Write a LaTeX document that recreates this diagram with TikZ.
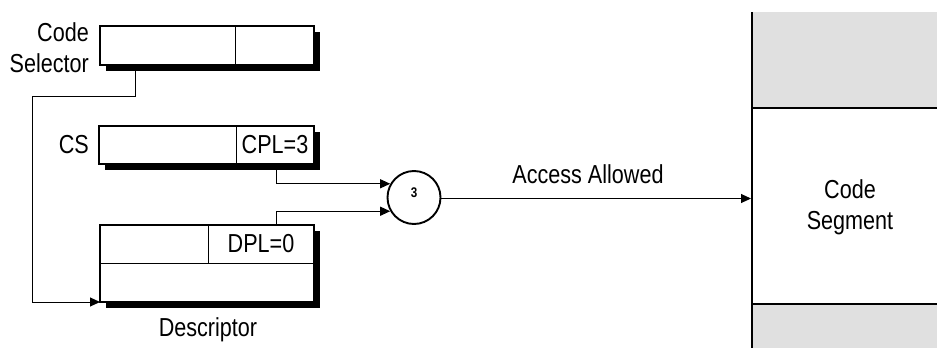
\documentclass[tikz,border=0pt]{standalone}
\usepackage{fontspec}
\setmainfont[FakeStretch=0.83]{Liberation Sans}
\usetikzlibrary{arrows.meta,shadows}
\definecolor{seggray}{HTML}{E0E0E0}
\tikzset{
  regbox/.style={draw=black, line width=1.5pt, fill=white, inner sep=0pt, outer sep=0pt, anchor=north west,
    general shadow={fill=black, shadow xshift=5.5pt, shadow yshift=-5.5pt}},
  divider/.style={line width=0.9pt},
  conn/.style={line width=1pt},
  arr/.style={conn, -{Triangle[length=10pt,width=9pt]}},
  lbl/.style={font=\fontsize{26}{31}\selectfont, inner sep=0pt},
  segline/.style={line width=2.2pt},
}
\begin{document}
\begin{tikzpicture}[x=1pt,y=-1pt]
\useasboundingbox (0,0) rectangle (937,348);
% code segment column
\fill[seggray] (753,12) rectangle (937,108);
\fill[seggray] (753,304) rectangle (937,348);
\draw[segline] (752,12) -- (752,348);
\draw[segline] (752,108) -- (937,108);
\draw[segline] (752,304) -- (937,304);
\node[lbl, align=center] (seg) at (850,207.5) {Code\\Segment};
\coordinate (segin) at (751,198.5);

% code selector
\node[regbox, minimum width=214pt, minimum height=39pt] (sel) at (100,26) {};
\draw[divider] (235,26) -- (235,65);
\node[lbl, align=right, anchor=east] (sellbl) at (89,47.5) {Code\\Selector};

% CS register
\node[regbox, minimum width=215pt, minimum height=38pt] (cs) at (99,126) {};
\draw[divider] (236,126) -- (236,164);
\node[lbl] (cpl) at (275,145) {CPL=3};
\node[lbl, anchor=east] (cslbl) at (89,145) {CS};

% descriptor
\node[regbox, minimum width=214pt, minimum height=77pt] (desc) at (100,225) {};
\draw[divider] (100,263) -- (314,263);
\draw[divider] (208,225) -- (208,263);
\node[lbl] (dpl) at (261,244) {DPL=0};
\node[lbl] (desclbl) at (208,330) {Descriptor};

% check circle
\node[draw, circle, line width=1.9pt, minimum size=53pt, inner sep=0pt] (chk) at (414,197.5) {};
\node[font=\bfseries\fontsize{14}{16}\selectfont, inner sep=0pt] (chknum) at (414,193) {3};

% connectors
\coordinate (selout) at (135,71);
\coordinate (csout) at (276,169.5);
\coordinate (descout) at (276,225);
\draw[arr] (selout) -- (135,96) -- (32,96) |- (desc.south west |- 0,302);
\draw[arr] (csout) |- (chk.150);
\draw[arr] (descout) |- (chk.210);
\draw[arr] (chk.east |- segin) -- (segin);
\node[lbl] (acc) at (588,174) {Access Allowed};
\end{tikzpicture}
\end{document}
